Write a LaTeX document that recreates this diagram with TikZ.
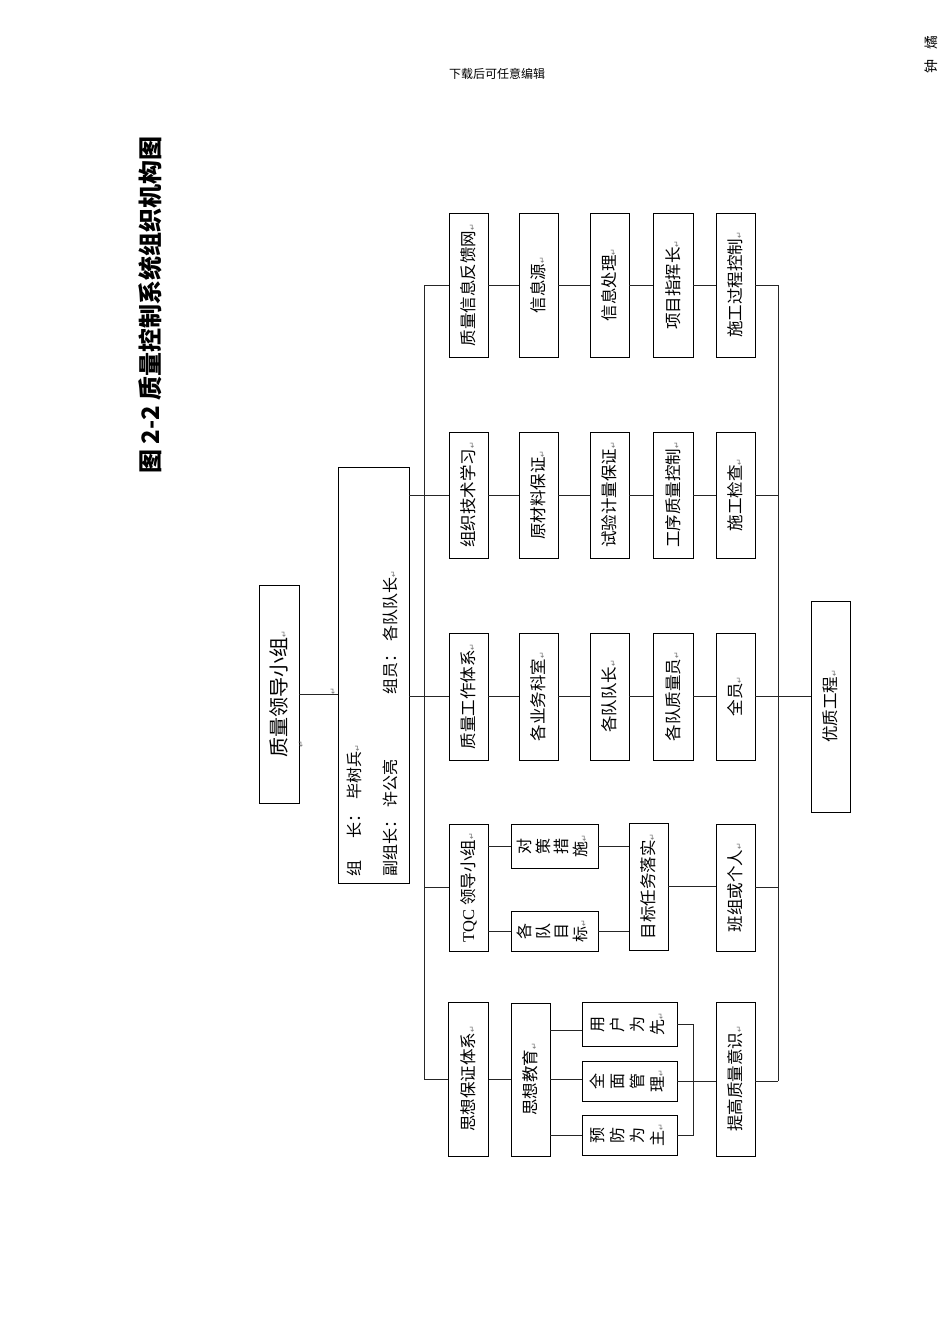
\documentclass[tikz,border=0pt]{standalone}
\usepackage{fontspec}
\usepackage{graphicx}
\setmainfont{Noto Sans CJK SC}
\newfontfamily\dvs{DejaVu Sans}
\newfontfamily\tms{Liberation Serif}
\newcommand\parmark{{\dvs\fontsize{8}{8}\selectfont\textcolor{black!55}{↵}}}
\newcommand\rt[1]{\rotatebox{90}{#1}}
\newcommand\stk[2]{\rotatebox{90}{\fontsize{16}{#1}\selectfont\begin{tabular}{@{}c@{}}#2\end{tabular}}}
\begin{document}
\begin{tikzpicture}[x=1pt,y=-1pt,
  bx/.style 2 args={draw, line width=0.9pt, inner sep=0pt, minimum width=#1pt, minimum height=#2pt, font=\fontsize{16.5}{18}\selectfont},
  ln/.style={line width=0.8pt, draw=black!85},
  lbl/.style={inner sep=0pt, font=\fontsize{16}{18}\selectfont}
]
\path[use as bounding box] (0,0) rectangle (950,1344);

% header and title
\node[inner sep=0pt, font=\fontsize{12}{14}\selectfont] (hdr) at (497,74) {下载后可任意编辑};
\node[rotate=90, inner sep=0pt, font=\fontsize{14}{16}\selectfont] (corner) at (931,54) {钟\hspace{10pt}燏};
\node[rotate=90, inner sep=0pt, font=\fontsize{24}{26}\selectfont\bfseries] (title) at (150,305) {图 2-2 质量控制系统组织机构图};

% leading group
\node[bx={40}{218}] (lead) at (279,694) {\rt{\fontsize{20}{22}\selectfont 质量领导小组\parmark}};
\node[bx={71}{416}] (grp) at (373.5,675) {};
\node[lbl, rotate=90, anchor=base west] (g1) at (360,877) {组\hspace{22pt}长：\hspace{7pt}毕树兵\parmark};
\node[lbl, rotate=90, anchor=base west] (g2) at (396,877) {副组长：\hspace{5pt}许公亮};
\node[lbl, rotate=90, anchor=base west] (g3) at (396,695) {组员：\hspace{5pt}各队队长\parmark};
\node[rotate=90, inner sep=0pt] (pm1) at (333,691) {\parmark};
\node[rotate=90, inner sep=0pt] (pm2) at (301,744) {\parmark};

% row 1
\node[bx={39}{144}] (r1c1) at (468.5,285) {\rt{质量信息反馈网\parmark}};
\node[bx={39}{144}] (r1c2) at (538.5,285) {\rt{信息源\parmark}};
\node[bx={39}{144}] (r1c3) at (609.5,285) {\rt{信息处理\parmark}};
\node[bx={40}{144}] (r1c4) at (673,285) {\rt{项目指挥长\parmark}};
\node[bx={39}{144}] (r1c5) at (735.5,285) {\rt{施工过程控制\parmark}};
% row 2
\node[bx={39}{126}] (r2c1) at (468.5,495) {\rt{组织技术学习\parmark}};
\node[bx={39}{126}] (r2c2) at (538.5,495) {\rt{原材料保证\parmark}};
\node[bx={39}{126}] (r2c3) at (609.5,495) {\rt{试验计量保证\parmark}};
\node[bx={40}{126}] (r2c4) at (673,495) {\rt{工序质量控制\parmark}};
\node[bx={39}{126}] (r2c5) at (735.5,495) {\rt{施工检查\parmark}};
% row 3
\node[bx={39}{127}] (r3c1) at (468.5,696.5) {\rt{质量工作体系\parmark}};
\node[bx={39}{127}] (r3c2) at (538.5,696.5) {\rt{各业务科室\parmark}};
\node[bx={39}{127}] (r3c3) at (609.5,696.5) {\rt{各队队长\parmark}};
\node[bx={40}{127}] (r3c4) at (673,696.5) {\rt{各队质量员\parmark}};
\node[bx={39}{127}] (r3c5) at (735.5,696.5) {\rt{全员\parmark}};
% row 4
\node[bx={39}{127}] (r4c1) at (468.5,887.5) {\rt{{\tms TQC} 领导小组\parmark}};
\node[bx={87}{44}] (dc) at (554.5,846) {\stk{18}{对\\策\\措\\施\parmark}};
\node[bx={87}{40}] (gm) at (554.5,931) {\stk{18}{各\\队\\目\\标\parmark}};
\node[bx={39}{127}] (mb) at (648.5,886.5) {\rt{目标任务落实\parmark}};
\node[bx={39}{127}] (r4c5) at (735.5,887.5) {\rt{班组或个人\parmark}};
% row 5
\node[bx={40}{154}] (r5c1) at (468.5,1079) {\rt{思想保证体系\parmark}};
\node[bx={39}{153}] (jy) at (530.5,1079.5) {\rt{思想教育\parmark}};
\node[bx={95}{44}] (yh) at (629.5,1024) {\stk{20}{用\\户\\为\\先\parmark}};
\node[bx={95}{40}] (qm) at (629.5,1081) {\stk{20}{全\\面\\管\\理\parmark}};
\node[bx={95}{40}] (yf) at (629.5,1135) {\stk{20}{预\\防\\为\\主\parmark}};
\node[bx={39}{154}] (r5c5) at (735.5,1079) {\rt{提高质量意识\parmark}};
% result
\node[bx={39}{211}] (yz) at (830.5,706.5) {\rt{优质工程\parmark}};

\coordinate (bL) at (424,0);
\coordinate (bR) at (778,0);
\coordinate (rj) at (693,0);

% left bus
\draw[ln] (bL |- r1c1.west) -- (bL |- r5c1.west);
\foreach \n in {r1c1,r2c1,r3c1,r4c1,r5c1} \draw[ln] (bL |- \n.west) -- (\n.west);
\draw[ln] (grp.east |- r2c1.west) -- (bL |- r2c1.west);
\draw[ln] (grp.east |- r3c1.west) -- (bL |- r3c1.west);
\draw[ln] (lead.east) -- (grp.west |- lead.east);
% rows 1-3
\foreach \r in {1,2,3} {
  \draw[ln] (r\r c1.east) -- (r\r c2.west);
  \draw[ln] (r\r c2.east) -- (r\r c3.west);
  \draw[ln] (r\r c3.east) -- (r\r c4.west);
  \draw[ln] (r\r c4.east) -- (r\r c5.west);
}
% row 4
\draw[ln] (r4c1.east |- dc.west) -- (dc.west);
\draw[ln] (r4c1.east |- gm.west) -- (gm.west);
\draw[ln] (dc.east) -- (mb.west |- dc.east);
\draw[ln] (gm.east) -- (mb.west |- gm.east);
\draw[ln] (mb.east) -- (r4c5.west |- mb.east);
% row 5
\coordinate (yhL) at ([yshift=-6pt]yh.west);
\draw[ln] (r5c1.east) -- (jy.west |- r5c1.east);
\draw[ln] (jy.east |- yhL) -- (yhL);
\draw[ln] (jy.east) -- (qm.west |- jy.east);
\draw[ln] (jy.east |- yf.west) -- (yf.west);
\draw[ln] (yh.east) -- (rj |- yh.east) -- (rj |- yf.east) -- (yf.east);
\draw[ln] (qm.east) -- (r5c5.west |- qm.east);
% right bus
\draw[ln] (bR |- r1c5.east) -- (bR |- qm.east);
\foreach \n in {r1c5,r2c5,r3c5,r4c5} \draw[ln] (\n.east) -- (bR |- \n.east);
\draw[ln] (r5c5.east |- qm.east) -- (bR |- qm.east);
\draw[ln] (bR |- r3c5.east) -- (yz.west |- r3c5.east);
\end{tikzpicture}
\end{document}
